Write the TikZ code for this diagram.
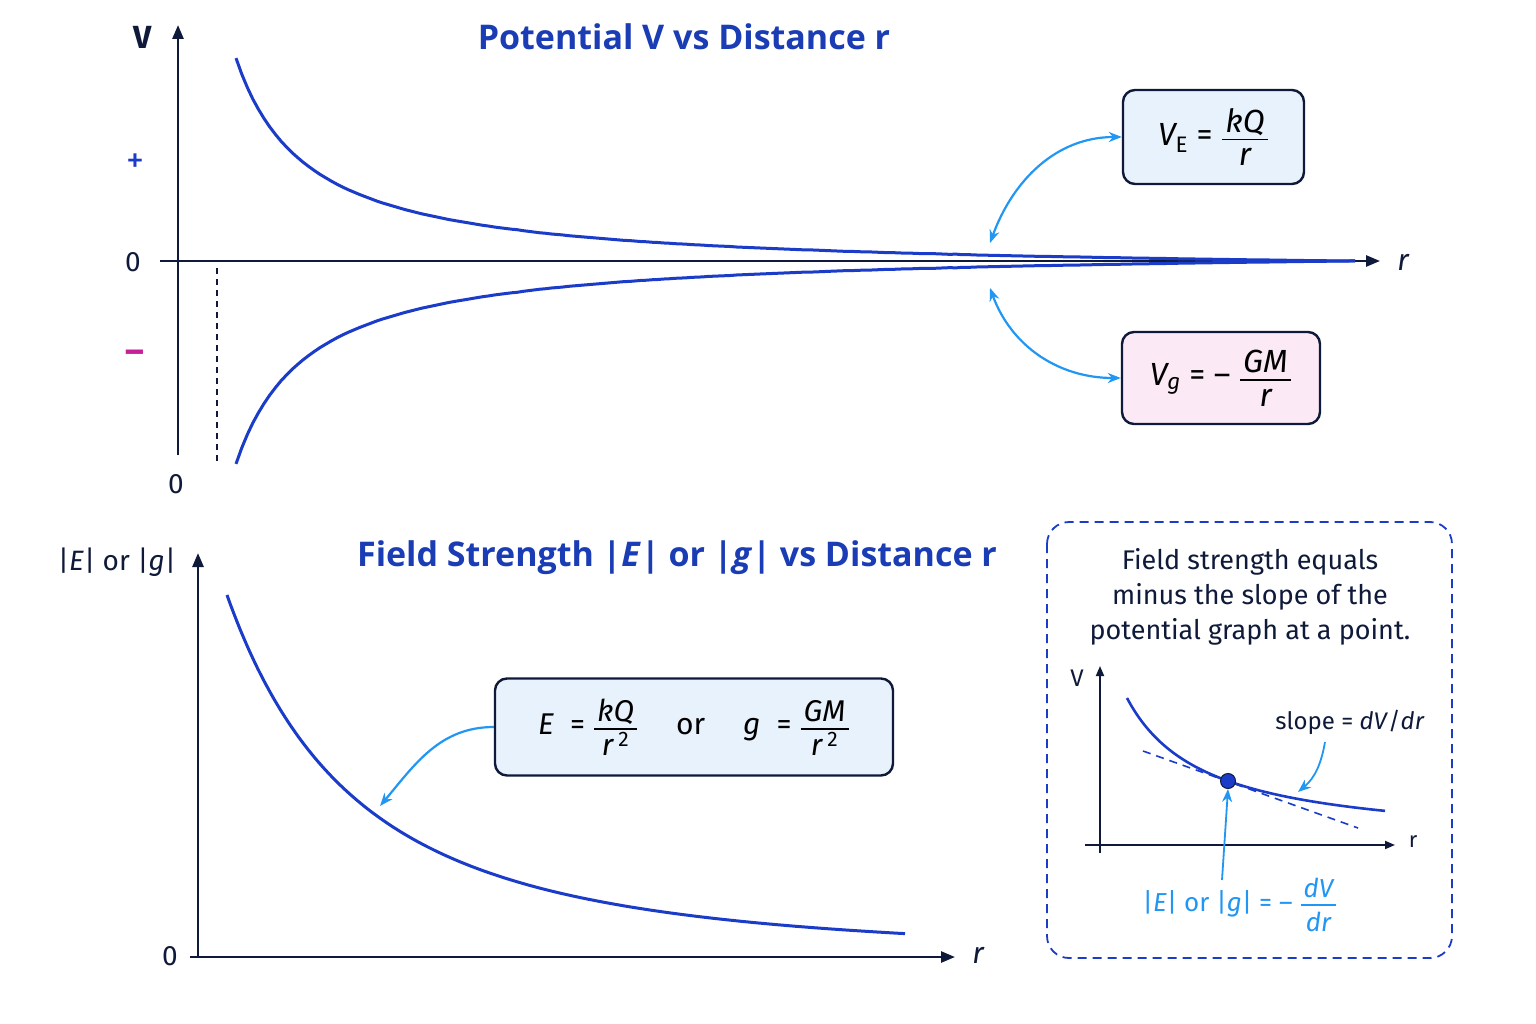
\documentclass[tikz,border=0pt]{standalone}
\usepackage{amsmath}
\usepackage{fontspec}
\setmainfont{Fira Sans}
\newfontfamily\tfont{Open Sans}
\usetikzlibrary{arrows.meta}
\newcommand{\myfr}[2]{$\genfrac{}{}{1.6pt}{}{\mbox{\itshape\kern3pt\rule[-5pt]{0pt}{5pt}#1\kern3pt}}{\mbox{\itshape\kern3pt\rule{0pt}{24pt}#2\kern3pt}}$}
\definecolor{navy}{HTML}{0F1A3A}
\definecolor{curve}{HTML}{1A3CC8}
\definecolor{ttl}{HTML}{1A3CB4}
\definecolor{lite}{HTML}{2196F3}
\definecolor{boxb}{HTML}{E8F2FC}
\definecolor{boxp}{HTML}{FBE9F5}
\definecolor{mag}{HTML}{C8209A}
\tikzset{
 ax/.style={line width=2.6pt,draw=navy,-{Triangle[length=14pt,width=11pt]}},
 cv/.style={line width=3pt,draw=curve},
 title/.style={text=ttl,font=\fontsize{34}{40}\selectfont\tfont\bfseries},
 lab/.style={text=navy,font=\fontsize{28}{32}\selectfont},
 fbox/.style={draw=navy,line width=2.4pt,rounded corners=12pt},
 la/.style={line width=2.2pt,draw=lite,{Stealth[length=13pt,width=10pt]}-{Stealth[length=13pt,width=10pt]}},
 la1/.style={line width=2.2pt,draw=lite,-{Stealth[length=13pt,width=10pt]}},
}
\begin{document}
\begin{tikzpicture}[x=1pt,y=-1pt]
\useasboundingbox[fill=white] (0,0) rectangle (1536,1024);
% top
\node[title] (t1) at (684,37) {Potential V vs Distance r};
\draw[ax] (178,455) -- (178,25);
\draw[ax] (160,261) -- (1380,261);
\node[lab,font=\fontsize{32}{32}\selectfont\bfseries] (V) at (143,37) {V};
\node[lab,text=curve,font=\fontsize{36}{36}\selectfont] (plus) at (135,163) {+};
\node[lab] (z1) at (133,262) {0};
\node[lab,text=mag,font=\fontsize{36}{36}\selectfont\bfseries] (minus) at (135,357) {–};
\node[lab] (z2) at (176,484) {0};
\node[lab,font=\fontsize{30}{32}\selectfont\itshape] (r1) at (1403,262) {r};
\draw[navy,line width=1.4pt,dash pattern=on 6pt off 5pt] (217,268) -- (217,465);
\draw[cv] plot[domain=236:1355,samples=200] (\x,{261-15552*(1/(\x-164)-1/1191)});
\draw[cv] plot[domain=236:1355,samples=200] (\x,{261+15552*(1/(\x-164)-1/1191)});
\node[fbox,fill=boxb,minimum width=181pt,minimum height=94pt] (VE) at (1213.5,137)
 {\fontsize{32}{36}\selectfont\itshape V\textsubscript{\upshape E}\upshape\ = \myfr{kQ}{r}};
\node[fbox,fill=boxp,minimum width=198pt,minimum height=92pt] (Vg) at (1221,378)
 {\fontsize{32}{36}\selectfont\itshape V\textsubscript{g}\upshape\ = – \myfr{GM}{r}};
\coordinate (p1) at (990,243);
\coordinate (p2) at (990,288);
\draw[la] (VE.west) to[out=180,in=70] (p1);
\draw[la] (Vg.west) to[out=180,in=-70] (p2);
% bottom
\node[title] (t2) at (677,558) {Field Strength |\textit{E}| or |\textit{g}| vs Distance r};
\draw[ax] (198,957) -- (198,553);
\draw[ax] (190,957) -- (955,957);
\node[lab] (Eg) at (117,562) {|\textit{E}| or |\textit{g}|};
\node[lab] (z3) at (170,956) {0};
\node[lab,font=\fontsize{30}{32}\selectfont\itshape] (r2) at (978,955) {r};
\draw[cv] plot[domain=227:905,samples=200] (\x,{957-362*pow(296/(\x+69),2.3)});
\node[fbox,fill=boxb,minimum width=398pt,minimum height=97pt] (EF) at (694,727)
 {\fontsize{30}{36}\selectfont\itshape E\upshape\ \ =\ \myfr{kQ}{r\,\textsuperscript{\upshape 2}}\quad\ or\quad\ \itshape g\upshape\ \ =\ \myfr{GM}{r\,\textsuperscript{\upshape 2}}};
\coordinate (p3) at (380,806);
\draw[la1] (EF.west) to[out=180,in=50] (p3);
% inset
\draw[curve,line width=1.8pt,dash pattern=on 9pt off 6pt,rounded corners=22pt] (1047,522) rectangle (1452,958);
\node[lab,align=center,font=\fontsize{27}{35}\selectfont] (txt) at (1250,597) {Field strength equals\\minus the slope of the\\potential graph at a point.};
\draw[ax,line width=1.8pt,-{Triangle[length=10pt,width=8pt]}] (1100,853) -- (1100,666);
\draw[ax,line width=1.8pt,-{Triangle[length=10pt,width=8pt]}] (1085,845) -- (1395,845);
\node[lab,font=\fontsize{24}{28}\selectfont] (V2) at (1077,678) {V};
\node[lab,font=\fontsize{22}{28}\selectfont] (r3) at (1413,842) {r};
\draw[cv,line width=2.6pt] plot[domain=1127:1385,samples=120] (\x,{845-11466/(\x-1049)});
\draw[curve,line width=1.6pt,dash pattern=on 8pt off 6pt] (1143,751) -- (1358,828);
\node[circle,fill=curve,draw=navy,line width=1pt,inner sep=0pt,minimum size=15pt] (pt) at (1228,781) {};
\node[lab,font=\fontsize{24}{28}\selectfont] (sl) at (1350,722) {slope = \textit{dV}/\textit{dr}};
\coordinate (p4) at (1298,792);
\draw[la1,line width=1.8pt] (1325,742) to[out=-100,in=40] (p4);
\node[lab,text=lite,font=\fontsize{26}{30}\selectfont] (fe) at (1240,905) {|\textit{E}| or |\textit{g}| = – \myfr{dV}{dr}};
\draw[la1,line width=1.8pt] (1222,880) -- (pt.south);
\end{tikzpicture}
\end{document}
